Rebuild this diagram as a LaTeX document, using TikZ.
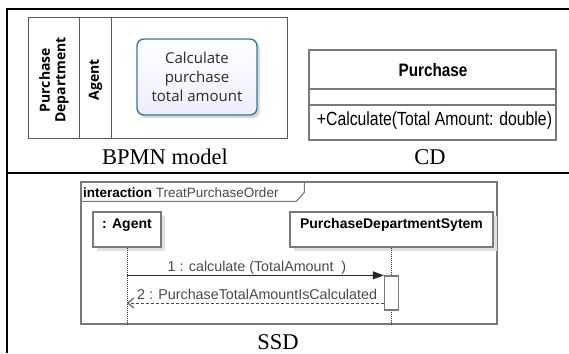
\documentclass[tikz,border=0pt]{standalone}
\usepackage{fontspec}
\setmainfont{Liberation Serif}
\newfontfamily\arialf{Liberation Sans}
\newfontfamily\segoef{Open Sans}
\usetikzlibrary{shadows,arrows.meta}
\definecolor{bpmnblue}{HTML}{2F7AA8}
\definecolor{poolgray}{HTML}{5A5A5A}
\definecolor{umlgray}{HTML}{7A7A7A}
\definecolor{txtgray}{HTML}{4A4A4A}
\definecolor{tasktxt}{HTML}{262B36}
\begin{document}
\begin{tikzpicture}[x=1pt,y=-1pt,
  tableline/.style={line width=2pt,black},
  poolline/.style={draw=poolgray,line width=0.8pt},
  lanelabel/.style={rotate=90,align=center,font=\segoef\bfseries\fontsize{14}{15.5}\selectfont,text=black},
  task/.style={draw=bpmnblue,line width=1.4pt,rounded corners=7pt,top color=white,bottom color=blue!7,
     minimum width=120pt,minimum height=76pt,align=center,text=tasktxt,
     font=\segoef\fontsize{15}{19}\selectfont,
     drop shadow={shadow xshift=3pt,shadow yshift=-3pt,fill=black,opacity=0.15}},
  caption/.style={font=\fontsize{22.5}{24}\selectfont,inner sep=0pt},
  umlbox/.style={draw=umlgray,line width=1.3pt,fill=white},
  umltxt/.style={font=\arialf\fontsize{14}{16}\selectfont,text=black,inner sep=0pt},
  lifebox/.style={draw=umlgray,line width=1.3pt,fill=white,
     drop shadow={shadow xshift=4pt,shadow yshift=-4pt,fill=black!12,opacity=1}},
  lifeline/.style={densely dotted,line width=1pt,black!80},
  msg/.style={line width=1pt,black!85,-{Triangle[length=11pt,width=8pt]}},
  retmsg/.style={line width=1pt,black!70,dashed,dash pattern=on 3pt off 2pt,-{Straight Barb[length=6pt,width=10pt]}},
  msgtxt/.style={font=\arialf\fontsize{14.3}{16}\selectfont,text=txtgray,inner sep=0pt}
]
\useasboundingbox (0,0) rectangle (569,353);
% table frame
\draw[tableline] (6.5,353) -- (6.5,9) -- (569,9);
\draw[tableline] (6.5,172.5) -- (569,172.5);

% BPMN pool
\draw[poolline] (28,17) rectangle (287,138);
\draw[poolline] (79,17) -- (79,138);
\draw[poolline] (111,17) -- (111,138);
\node[lanelabel] (lanePD) at (54,80) {Purchase\\Department};
\node[lanelabel] (laneA) at (95.5,80) {Agent};
\node[task] (task) at (197,77) {Calculate\\purchase\\total amount};
\node[caption] (bpmncap) at (165,157) {BPMN model};

% Class diagram
\node[umlbox,minimum width=247pt,minimum height=90pt,inner sep=0pt] (cls) at (432.5,95) {};
\draw[umlgray,line width=1.3pt] (cls.west |- 0,89) coordinate (d1w) -- (cls.east |- 0,89);
\draw[umlgray,line width=1.3pt] (cls.west |- 0,105) -- (cls.east |- 0,105);
\node[font=\arialf\bfseries\fontsize{18}{20}\selectfont,inner sep=0pt] (clsname) at (433,70)
   {\scalebox{0.85}[1]{Purchase}};
\node[font=\arialf\fontsize{19}{21}\selectfont,inner sep=0pt] (clsop) at (434.5,121)
   {\scalebox{0.83}[1]{+Calculate(Total Amount: double)}};
\node[caption] (cdcap) at (430,157) {CD};

% SSD
\node[draw=umlgray,line width=1.3pt,minimum width=416pt,minimum height=142pt,inner sep=0pt] (frame) at (289,253) {};
\draw[umlgray,line width=1.1pt] (frame.north west) ++(0,20) -- ++(216,0) -- ++(8,-9) -- ++(0,-11);
\node[anchor=west,font=\arialf\fontsize{13.5}{16}\selectfont,inner sep=0pt] (flabel) at (83,192.5)
   {\textbf{interaction} \textcolor{txtgray}{TreatPurchaseOrder}};

\node[lifebox,minimum width=68pt,minimum height=35pt,inner sep=0pt] (agentbox) at (127,229.5) {};
\node[umltxt,font=\arialf\bfseries\fontsize{14}{16}\selectfont] (agentlbl) at (127,225) {: Agent};
\node[lifebox,minimum width=203pt,minimum height=35pt,inner sep=0pt] (sysbox) at (391.5,229.5) {};
\node[umltxt,font=\arialf\bfseries\fontsize{14}{16}\selectfont] (syslbl) at (391.5,225) {PurchaseDepartmentSytem};

\coordinate (agentend) at (127,325);
\coordinate (sysend) at (391.5,325);
\draw[lifeline] (agentbox.south) -- (agentend);
\draw[lifeline] (sysbox.south) -- (sysend);

\node[draw=umlgray,line width=1.3pt,fill=white,minimum width=14pt,minimum height=34pt,inner sep=0pt] (act) at (391.5,293) {};

\draw[msg] (agentbox.south |- act.north) -- (act.north west);
\coordinate (r2) at (0,303);
\draw[retmsg] (act.west |- r2) -- (agentbox.south |- r2);
\node[msgtxt] (m1lbl) at (257,268) {1 : calculate (TotalAmount\ \ )};
\node[msgtxt,anchor=west] (m2lbl) at (137,294) {2 : PurchaseTotalAmountIsCalculated};

\node[caption] (ssdcap) at (278,342) {SSD};
\end{tikzpicture}
\end{document}
